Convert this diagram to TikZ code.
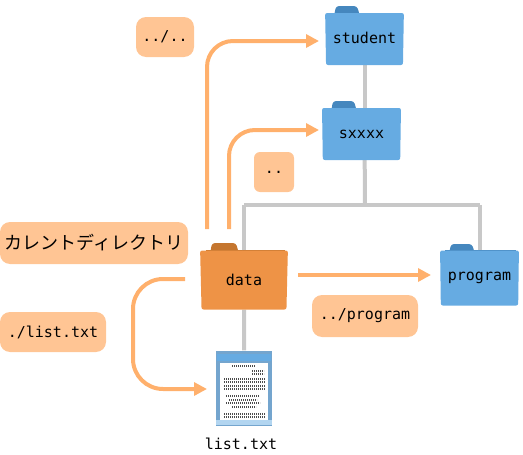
\documentclass[tikz,border=0pt]{standalone}
\usepackage{fontspec}
\setmonofont{DejaVu Sans Mono}
\newfontfamily\cjk{Noto Sans CJK JP}
\usetikzlibrary{arrows.meta,shapes.geometric,backgrounds}
\definecolor{folderblue}{HTML}{66ABE2}
\definecolor{tabblue}{HTML}{4587BE}
\definecolor{folderorange}{HTML}{EE9346}
\definecolor{taborange}{HTML}{C5762F}
\definecolor{memofill}{HTML}{FFC594}
\definecolor{arrowfill}{HTML}{FFB06C}
\definecolor{treeline}{HTML}{C8C8C8}
\tikzset{
  folder/.style={trapezium, trapezium stretches=true, shape border rotate=180,
    trapezium left angle=87, trapezium right angle=87, inner sep=0pt, rounded corners=2pt,
    minimum width=#1, font=\ttfamily\fontsize{15}{16}\selectfont},
  memo/.style={fill=memofill, rounded corners=10pt, inner sep=0pt, font=\ttfamily\fontsize{15}{16}\selectfont},
  tree/.style={treeline, line width=4pt},
  jump/.style={arrowfill, line width=4pt, rounded corners=26pt, -{Triangle[length=13pt,width=13pt]}},
}
\begin{document}
\begin{tikzpicture}[x=1pt, y=-1pt]
  \useasboundingbox (0,0) rectangle (523,455);
  % folders
  \node[folder=79pt, minimum height=52pt, fill=folderblue] (student) at (364.5,39) {\raisebox{3pt}{student}};
  \node[folder=79pt, minimum height=52pt, fill=folderblue] (sxxxx) at (361.5,134) {sxxxx\hspace{6pt}};
  \node[folder=88pt, minimum height=59pt, fill=folderorange] (data) at (244,280) {data\hspace{6pt}};
  \node[folder=79pt, minimum height=55pt, fill=folderblue] (program) at (479.5,278) {program\hspace{4pt}};
  % document
  \node[draw=none, fill=tabblue!75, minimum width=56pt, minimum height=75pt, inner sep=0pt] (listdoc) at (244,388) {};
  \fill[folderblue!50] (216,420) rectangle (272,425);
  \fill[folderblue] (217,354) rectangle (271,361);
  \fill[white] (219.5,363) rectangle (268,420);
  \foreach \y/\a/\b in {366/232/255, 371/252/264, 374/252/264, 379/224/265, 382/224/265, 386/224/265,
      389/224/265, 396/226/259, 400/229/257, 403/226/260, 407/232/256, 414/224/265, 417/224/265}
    \draw[black!70, line width=1.4pt, dash pattern=on 1.2pt off 0.8pt] (\a,\y) -- (\b,\y);
  \node[font=\ttfamily\fontsize{15}{16}\selectfont] (listname) at (241,444) {list.txt};
  % tree
  \begin{pgfonlayer}{background}
    \coordinate (bus) at (365,205);
    \fill[tabblue, rounded corners=3pt] (334,16) -- (336,6) -- (357,6) -- (360,16) -- cycle;
    \fill[tabblue] (330,13) rectangle (401,18);
    \fill[tabblue, rounded corners=3pt] (331,112) -- (333,101) -- (354,101) -- (357,112) -- cycle;
    \fill[tabblue] (327,108) rectangle (398,113);
    \fill[taborange, rounded corners=3pt] (210,254) -- (212,243) -- (236,243) -- (239,254) -- cycle;
    \fill[taborange] (206,250) rectangle (285,255);
    \fill[tabblue, rounded corners=3pt] (449,254) -- (451,244) -- (472,244) -- (475,254) -- cycle;
    \fill[tabblue] (445,250) rectangle (516,255);
    \draw[tree] (student) -- (student |- sxxxx);
    \draw[tree] (student |- sxxxx) -- (bus);
    \draw[tree] (data |- bus) -- (program |- bus);
    \draw[tree] (data) -- (data |- bus);
    \draw[tree] (program) -- (program |- bus);
    \draw[tree] (data) -- (listdoc);
  \end{pgfonlayer}
  % labels
  \node[memo, minimum width=58pt, minimum height=40pt] (updouble) at (165,37) {../..};
  \node[memo, minimum width=40pt, minimum height=40pt, rounded corners=6pt] (upsingle) at (274,172) {..};
  \node[memo, minimum width=188pt, minimum height=42pt, font=\cjk\fontsize{18}{20}\selectfont] (current) at (94,243) {カレントディレクトリ};
  \node[memo, minimum width=106pt, minimum height=40pt] (listpath) at (53,332) {./list.txt};
  \node[memo, minimum width=106pt, minimum height=42pt] (programpath) at (365,316) {../program};
  % arrows
  \coordinate (startA) at (207,229);
  \coordinate (startB) at (229,229);
  \coordinate (startC) at (298,275);
  \coordinate (startD) at (185,279);
  \coordinate (endA) at (319,41);
  \coordinate (endB) at (319,130);
  \coordinate (endC) at (431,275);
  \coordinate (endD) at (207,389);
  \draw[jump] (startA) |- (endA);
  \draw[jump] (startB) |- (endB);
  \draw[jump] (startC) -- (endC);
  \draw[jump, rounded corners=30pt] (startD) -- (133,279) -- (133,389) -- (endD);
\end{tikzpicture}
\end{document}
